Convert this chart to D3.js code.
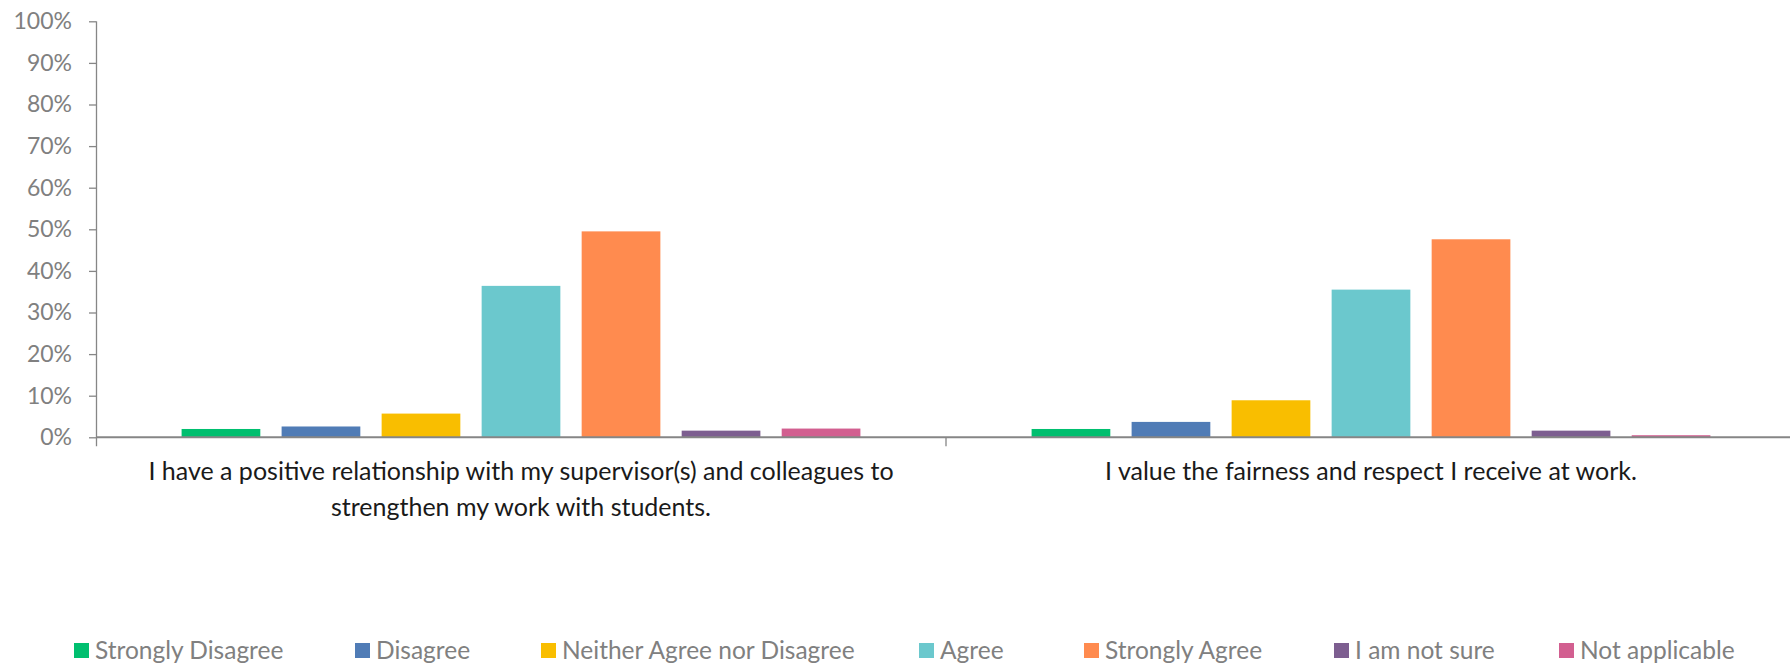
<!DOCTYPE html>
<html>
<head>
<meta charset="utf-8">
<script src="https://cdn.jsdelivr.net/npm/d3@7"></script>
<style>
  html, body { margin: 0; padding: 0; background: #ffffff; }
  svg { display: block; }
  text { font-family: Lato, "Open Sans", sans-serif; }
</style>
</head>
<body>
<svg id="chart" width="1790" height="663"></svg>
<script>
// Survey statements (x categories)
const statements = [
  ["I have a positive relationship with my supervisor(s) and colleagues to", "strengthen my work with students."],
  ["I value the fairness and respect I receive at work."]
];
const statementKeys = ["relationship", "fairness"];

// Response options (series)
const responses = ["Strongly Disagree", "Disagree", "Neither Agree nor Disagree", "Agree", "Strongly Agree", "I am not sure", "Not applicable"];
const responseColors = ["#00BF6F", "#507CB6", "#F9BE00", "#6BC8CD", "#FF8B4F", "#7D5E90", "#D25F90"];

// Share of respondents (%) per response, one array per statement
const relationshipValues = [2.0, 2.6, 5.7, 36.4, 49.5, 1.6, 2.1];
const fairnessValues = [2.0, 3.7, 8.9, 35.5, 47.6, 1.6, 0.5];

// Y axis ticks
const yTicks = [0, 10, 20, 30, 40, 50, 60, 70, 80, 90, 100];

const seriesByStatement = [relationshipValues, fairnessValues];

const svg = d3.select("#chart");
const margin = { left: 96, top: 21.3, bottom: 437.3, right: 1796 };

const x0 = d3.scaleBand()
  .domain(statementKeys)
  .range([margin.left, margin.right])
  .paddingInner(0).paddingOuter(0);

const groupW = x0.bandwidth();
const x1 = d3.scaleBand()
  .domain(responses)
  .range([groupW * 0.1007, groupW * (1 - 0.1007)])
  .paddingInner(0.213).paddingOuter(0);

const y = d3.scaleLinear().domain([0, 100]).range([margin.bottom, margin.top]);

// Bars
const groups = svg.append("g").selectAll("g")
  .data(statementKeys)
  .join("g")
  .attr("transform", d => `translate(${x0(d)},0)`);

groups.selectAll("rect")
  .data((d, i) => responses.map((r, j) => ({ r, v: seriesByStatement[i][j], c: responseColors[j] })))
  .join("rect")
  .attr("x", d => x1(d.r))
  .attr("width", x1.bandwidth())
  .attr("y", d => y(d.v))
  .attr("height", d => y(0) - y(d.v))
  .attr("fill", d => d.c);

// Y axis
const yAxis = svg.append("g")
  .attr("transform", `translate(${margin.left},0)`)
  .call(d3.axisLeft(y).tickValues(yTicks).tickFormat(d => d + "%").tickSize(7).tickPadding(17).tickSizeOuter(0));
yAxis.select(".domain").attr("stroke", "#868686").attr("stroke-width", 1.3)
  .attr("d", `M0.5,${margin.top}V${margin.bottom + 9}`);
yAxis.selectAll(".tick line").attr("stroke", "#868686").attr("stroke-width", 1.3);
yAxis.selectAll(".tick text").attr("fill", "#808080").style("font-size", "23px");

// X axis baseline with group divider ticks
const xAxis = svg.append("g").attr("transform", `translate(0,${margin.bottom})`);
xAxis.append("line")
  .attr("x1", margin.left).attr("x2", margin.right)
  .attr("y1", 0).attr("y2", 0)
  .attr("stroke", "#868686").attr("stroke-width", 2);
xAxis.selectAll("line.divider")
  .data(statementKeys.slice(1))
  .join("line")
  .attr("class", "divider")
  .attr("x1", d => x0(d)).attr("x2", d => x0(d))
  .attr("y1", 0).attr("y2", 9)
  .attr("stroke", "#868686").attr("stroke-width", 1.3);

// Category labels
const labels = svg.append("g").selectAll("text")
  .data(statementKeys)
  .join("text")
  .attr("x", d => x0(d) + groupW / 2)
  .attr("y", 480)
  .attr("text-anchor", "middle")
  .attr("fill", "#1a1a1a")
  .style("font-size", "25px");
labels.each(function(d, i) {
  d3.select(this).selectAll("tspan")
    .data(statements[i])
    .join("tspan")
    .attr("x", x0(d) + groupW / 2)
    .attr("dy", (t, k) => k === 0 ? 0 : 35.5)
    .text(t => t);
});

// Legend
const legendX = [74, 355, 541, 919, 1084, 1334, 1559];
const legend = svg.append("g").selectAll("g")
  .data(responses)
  .join("g")
  .attr("transform", (d, i) => `translate(${legendX[i]},643)`);
legend.append("rect")
  .attr("width", 15).attr("height", 15)
  .attr("fill", (d, i) => responseColors[i]);
legend.append("text")
  .attr("x", 21).attr("y", 15.5)
  .attr("fill", "#808080")
  .style("font-size", "24.5px")
  .text(d => d);
</script>
</body>
</html>
